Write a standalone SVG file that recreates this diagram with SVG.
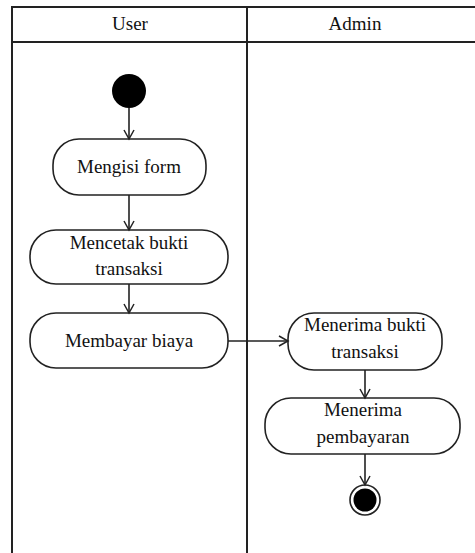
<svg xmlns="http://www.w3.org/2000/svg" width="475" height="553" viewBox="0 0 475 553">
<style>
.frame{fill:none;stroke:#222;stroke-width:2}
.node rect{fill:#fff;stroke:#222;stroke-width:1.6}
.lbl{font-family:'Liberation Serif',serif;font-size:19px;fill:#111;text-anchor:middle}
.conn line{stroke:#222;stroke-width:1.6;marker-end:url(#arr)}
</style>
<defs>
<marker id="arr" markerWidth="12" markerHeight="12" refX="10" refY="6" orient="auto" markerUnits="userSpaceOnUse">
<path d="M1,1 L10,6 L1,11" fill="none" stroke="#222" stroke-width="1.5"/>
</marker>
</defs>
<rect width="475" height="553" fill="#fff"/>
<g id="swimlanes">
<path class="frame" d="M12,553 V7 H475 M12,42 H475 M247,7 V553"/>
<text class="lbl" x="130" y="30">User</text>
<text class="lbl" x="355" y="30">Admin</text>
</g>
<g id="start"><circle cx="129" cy="91" r="17" fill="#000"/></g>
<g id="mengisi" class="node"><rect x="53" y="139" width="153" height="56" rx="26"/><text class="lbl" x="129" y="173">Mengisi form</text></g>
<g id="mencetak" class="node"><rect x="30" y="230" width="198" height="54" rx="26"/><text class="lbl" x="129" y="249">Mencetak bukti</text><text class="lbl" x="129" y="275">transaksi</text></g>
<g id="membayar" class="node"><rect x="30" y="313" width="198" height="55" rx="26"/><text class="lbl" x="129" y="347">Membayar biaya</text></g>
<g id="menerima-bukti" class="node"><rect x="288" y="313" width="154" height="57" rx="26"/><text class="lbl" x="365" y="331">Menerima bukti</text><text class="lbl" x="365" y="358">transaksi</text></g>
<g id="menerima-bayar" class="node"><rect x="265" y="398" width="195" height="56" rx="26"/><text class="lbl" x="363" y="416">Menerima</text><text class="lbl" x="363" y="443">pembayaran</text></g>
<g id="end"><circle cx="365" cy="500" r="15" fill="#fff" stroke="#222" stroke-width="1.6"/><circle cx="365" cy="500" r="11.5" fill="#000"/></g>
<g id="connectors" class="conn">
<line x1="129" y1="108" x2="129" y2="139"/>
<line x1="129" y1="195" x2="129" y2="230"/>
<line x1="129" y1="284" x2="129" y2="313"/>
<line x1="228" y1="341" x2="288" y2="341"/>
<line x1="365" y1="370" x2="365" y2="398"/>
<line x1="365" y1="454" x2="365" y2="485"/>
</g>
</svg>
